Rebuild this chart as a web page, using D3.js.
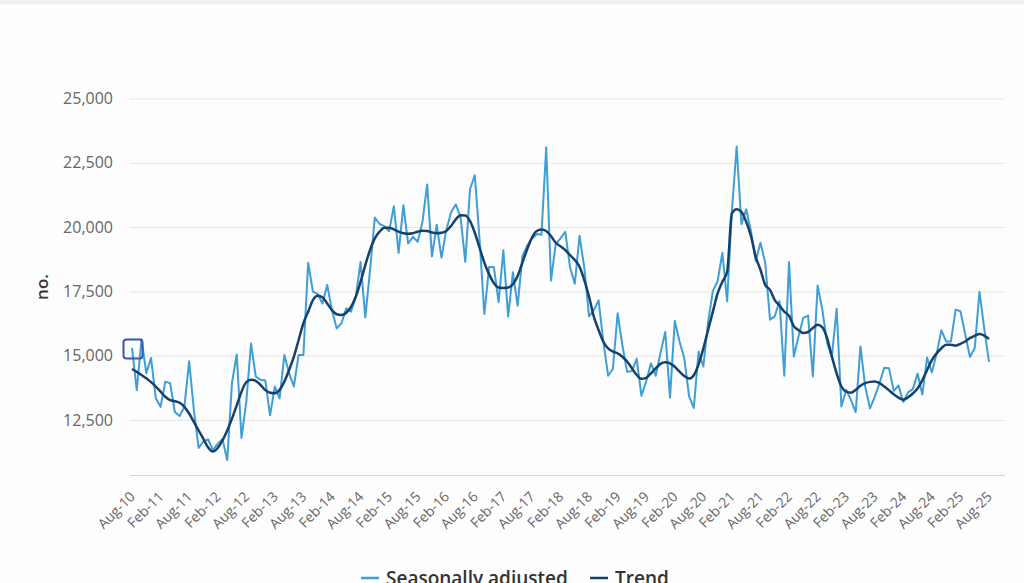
<!DOCTYPE html>
<html><head><meta charset="utf-8">
<script src="https://cdn.jsdelivr.net/npm/d3@7"></script>
<style>
html,body{margin:0;padding:0;background:#fdfdfd;overflow:hidden;}
svg{display:block;font-family:"Open Sans",sans-serif;}
</style></head><body>
<svg id="chart" width="1024" height="583"></svg>
<script>
// Monthly series, Aug-10 .. Aug-25
const seasonallyAdjusted = [
15300,13660,15630,14320,14910,13340,13010,13990,13930,12810,
12650,13010,14780,12880,11410,11670,11740,11330,11570,11760,
10940,13950,15040,11800,13200,15470,14190,14060,14030,12680,
13800,13340,15030,14310,13800,15030,15030,18610,17490,17400,
17030,17750,16770,16060,16260,16840,16710,17290,18640,16490,
18330,20370,20120,20040,19840,20810,19000,20850,19360,19620,
19430,20200,21660,18860,20090,18810,19880,20570,20880,20400,
18650,21480,22010,19520,16620,18450,18450,17080,19100,16520,
18240,16940,18870,19280,19540,19730,19700,23100,17920,19350,
19560,19820,18440,17800,19660,18420,16530,16770,17150,15550,
14220,14480,16650,15400,14370,14400,14880,13440,14000,14700,
14220,15110,15920,13370,16350,15550,14900,13430,12970,15150,
14580,16300,17520,17900,19000,17120,20630,23130,20110,20690,
19850,18680,19390,18610,16400,16530,17120,14220,18640,14970,
15750,16470,16560,14190,17730,16780,15490,14970,16820,13020,
13670,13280,12800,15360,13800,12950,13400,13930,14530,14510,
13630,13840,13200,13570,13700,14300,13490,14930,14350,15080,
15985,15555,15555,16790,16725,15835,14950,15295,17480,16050,
14760];
const trend = [
14480,14370,14250,14120,13970,13800,13600,13400,13270,13230,
13170,13010,12750,12420,12090,11760,11430,11270,11410,11700,
12090,12550,13070,13600,13970,14060,14020,13860,13660,13560,
13540,13670,13990,14440,14960,15610,16260,16710,17160,17330,
17270,17030,16770,16610,16580,16670,16900,17290,17870,18520,
19110,19560,19820,19970,19970,19910,19820,19760,19740,19760,
19820,19860,19850,19790,19760,19780,19850,20040,20300,20460,
20450,20230,19780,19200,18620,18170,17820,17650,17630,17650,
17780,18100,18620,19140,19590,19850,19910,19850,19650,19390,
19250,19110,18910,18720,18460,17940,17290,16520,16000,15540,
15280,15160,15090,14960,14770,14510,14250,14100,14140,14310,
14510,14680,14740,14700,14570,14380,14210,14110,14240,14660,
15280,16000,16710,17420,17870,18260,20530,20690,20590,20210,
19660,18850,18340,17750,17560,17160,16950,16710,16550,16150,
15990,15880,15920,16080,16200,16100,15680,14960,14310,13800,
13600,13560,13670,13830,13930,13980,14000,13930,13800,13650,
13500,13370,13290,13380,13530,13720,14050,14440,14830,15090,
15290,15420,15420,15390,15460,15550,15680,15770,15840,15780,
15650];
const yTicks = [12500, 15000, 17500, 20000, 22500, 25000];
const xTickLabels = ["Aug-10","Feb-11","Aug-11","Feb-12","Aug-12","Feb-13","Aug-13","Feb-14",
"Aug-14","Feb-15","Aug-15","Feb-16","Aug-16","Feb-17","Aug-17","Feb-18","Aug-18","Feb-19",
"Aug-19","Feb-20","Aug-20","Feb-21","Aug-21","Feb-22","Aug-22","Feb-23","Aug-23","Feb-24",
"Aug-24","Feb-25","Aug-25"];
const seriesNames = ["Seasonally adjusted", "Trend"];
const yAxisTitle = "no.";

const fmt = d3.timeFormat("%b-%y");
const start = new Date(2010, 7, 1);
const categories = d3.timeMonth.range(start, d3.timeMonth.offset(start, seasonallyAdjusted.length)).map(fmt);

const colors = ["#3d9fd5", "#17406a"];
const svg = d3.select("#chart");
const W = 1024, H = 583;

svg.append("rect").attr("width", W).attr("height", H).attr("fill", "#fdfdfd");
svg.append("rect").attr("width", W).attr("height", 3.5).attr("fill", "#f1f1f5");
svg.append("line").attr("x1", 0).attr("x2", W).attr("y1", 3.75).attr("y2", 3.75)
  .attr("stroke", "#e3e3e8").attr("stroke-width", 0.6);

const plotLeft = 130, plotRight = 1005;
const x = d3.scalePoint().domain(categories).range([132, 989]);
const y = d3.scaleLinear().domain([10340, 25000]).range([475.5, 98.5]);

// gridlines
const yAxis = d3.axisLeft(y).tickValues(yTicks).tickSize(-(plotRight - plotLeft))
  .tickFormat(d3.format(","));
const gy = svg.append("g").attr("transform", `translate(${plotLeft},0)`).call(yAxis);
gy.select(".domain").remove();
gy.selectAll(".tick line").attr("stroke", "#e6e6e6").attr("stroke-width", 1);
gy.selectAll(".tick text").attr("x", -17).attr("fill", "#666").attr("font-size", 16)
  .attr("font-family", "'Open Sans', sans-serif");

// x axis line
svg.append("line").attr("x1", plotLeft).attr("x2", plotRight)
  .attr("y1", 475.5).attr("y2", 475.5).attr("stroke", "#ccd6eb").attr("stroke-width", 1);

// x labels
const xAxis = d3.axisBottom(x).tickValues(xTickLabels).tickSize(0);
const gx = svg.append("g").attr("transform", "translate(0,475.5)").call(xAxis);
gx.select(".domain").remove();
gx.selectAll(".tick text")
  .attr("text-anchor", "end").attr("fill", "#666").attr("font-size", 14)
  .attr("font-family", "'Open Sans', sans-serif")
  .attr("dy", 0).attr("y", 0)
  .attr("transform", "translate(3.5,22) rotate(-45)");

// y title
svg.append("text").attr("transform", `translate(48,${(98.5 + 475.5) / 2}) rotate(-90)`)
  .attr("text-anchor", "middle").attr("font-size", 17).attr("font-weight", 600)
  .attr("fill", "#333").text(yAxisTitle);

// lines
svg.append("path").datum(seasonallyAdjusted)
  .attr("d", d3.line().x((d, i) => x(categories[i])).y(d => y(d)).curve(d3.curveLinear))
  .attr("fill", "none").attr("stroke", colors[0]).attr("stroke-width", 2)
  .attr("stroke-linejoin", "round");
svg.append("path").datum(trend)
  .attr("d", d3.line().x((d, i) => x(categories[i])).y(d => y(d)).curve(d3.curveMonotoneX))
  .attr("fill", "none").attr("stroke", colors[1]).attr("stroke-width", 2.5)
  .attr("stroke-linejoin", "round");

// focus marker on first point
const fx = x(categories[0]) + 1, fy = y(seasonallyAdjusted[0]) + 1;
svg.append("rect").attr("x", fx - 9.5).attr("y", fy - 9.5).attr("width", 19).attr("height", 19)
  .attr("rx", 3).attr("fill", "none").attr("stroke", "#3b55b8").attr("stroke-width", 2);

// legend
const legendX = [361, 590];
const lg = svg.append("g");
seriesNames.forEach((name, i) => {
  const g = lg.append("g").attr("transform", `translate(${legendX[i]},0)`);
  g.append("line").attr("x1", 0).attr("x2", 18).attr("y1", 578).attr("y2", 578)
    .attr("stroke", colors[i]).attr("stroke-width", 2.5);
  g.append("text").attr("x", 25).attr("y", 585).attr("font-size", 19).attr("font-weight", 600)
    .attr("fill", "#333").text(name);
});
</script>
</body></html>
